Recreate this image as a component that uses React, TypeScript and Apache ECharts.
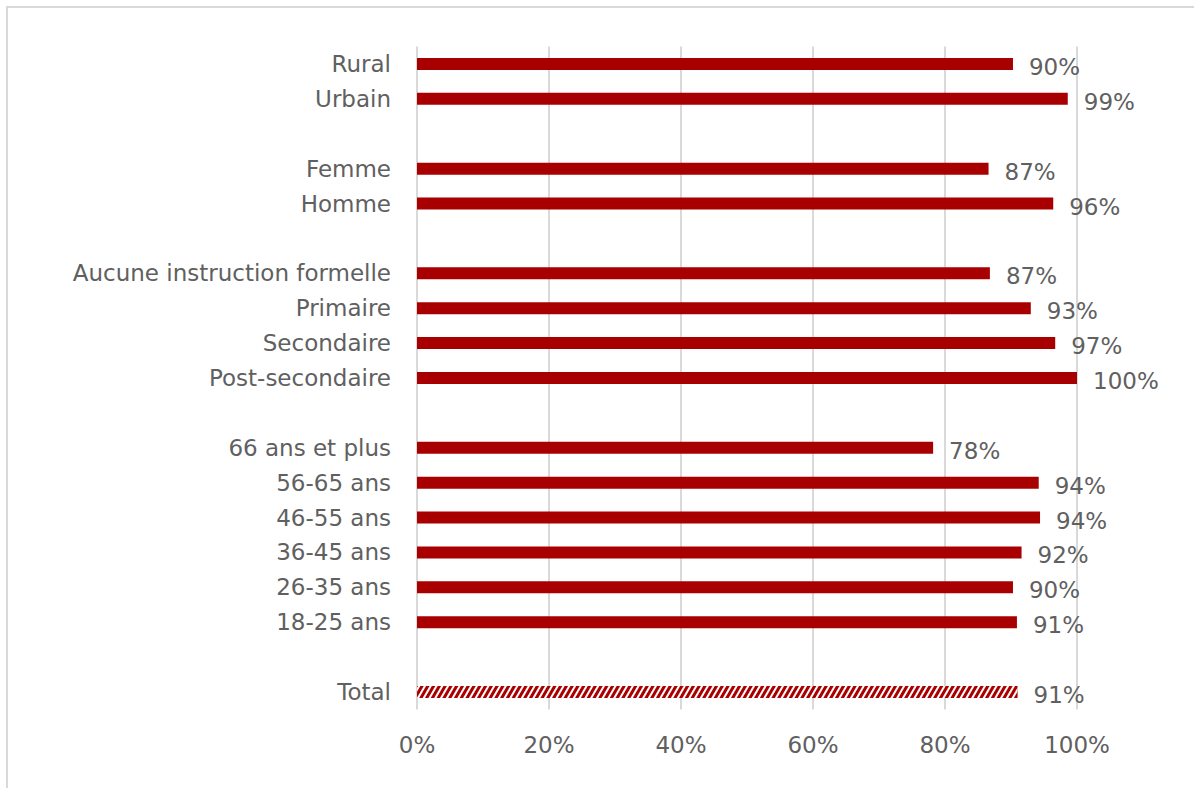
import React, { useEffect, useRef } from "react";
import * as echarts from "echarts";

// Row labels, top to bottom; blank entries are spacer rows between groups.
const categories = [
  "Rural",
  "Urbain",
  " ",
  "Femme",
  "Homme",
  "  ",
  "Aucune instruction formelle",
  "Primaire",
  "Secondaire",
  "Post-secondaire",
  "   ",
  "66 ans et plus",
  "56-65 ans",
  "46-55 ans",
  "36-45 ans",
  "26-35 ans",
  "18-25 ans",
  "    ",
  "Total",
];

// Share (%) per row; null for spacer rows.
const values: (number | null)[] = [
  90.3, 98.6, null, 86.6, 96.4, null, 86.8, 93.0, 96.7, 100, null,
  78.2, 94.2, 94.4, 91.6, 90.3, 90.9, null, 91.0,
];

const xTicks = { min: 0, max: 100, interval: 20 };

const RED = "#A80000";
const TEXT = "#606060";
const FONT = "DejaVu Sans";
const FONT_SIZE = 23;

export default function App() {
  const ref = useRef<HTMLDivElement>(null);

  useEffect(() => {
    if (!ref.current) return;
    const chart = echarts.init(ref.current, undefined, { renderer: "svg" });

    const data = values.map((v, i) => {
      if (v === null) return { value: null };
      if (categories[i] === "Total") {
        return {
          value: v,
          itemStyle: {
            color: RED,
            decal: {
              symbol: "rect",
              symbolSize: 1,
              color: "#ffffff",
              dashArrayX: [1, 0],
              dashArrayY: [2, 3],
              rotation: -Math.PI / 3,
            },
          },
        };
      }
      return { value: v };
    });

    chart.setOption({
      animation: false,
      textStyle: { fontFamily: FONT },
      graphic: [
        {
          type: "rect",
          shape: { x: 7, y: 7, width: 1300, height: 900 },
          style: { fill: "none", stroke: "#d9d9d9", lineWidth: 2 },
          silent: true,
        },
      ],
      grid: { left: 417, right: 117, top: 46.5, bottom: 78.5, containLabel: false },
      xAxis: {
        type: "value",
        min: xTicks.min,
        max: xTicks.max,
        interval: xTicks.interval,
        axisLine: { show: false },
        axisTick: { show: false },
        splitLine: { lineStyle: { color: "#d9d9d9", width: 2 } },
        axisLabel: {
          formatter: "{value}%",
          color: TEXT,
          fontSize: FONT_SIZE,
          fontFamily: FONT,
          margin: 24,
        },
      },
      yAxis: {
        type: "category",
        inverse: true,
        data: categories,
        axisLine: { show: false },
        axisTick: { show: false },
        axisLabel: {
          color: TEXT,
          fontSize: FONT_SIZE,
          fontFamily: FONT,
          margin: 26,
          interval: 0,
        },
      },
      series: [
        {
          type: "bar",
          barWidth: 12,
          data,
          itemStyle: { color: RED },
          label: {
            show: true,
            position: "right",
            distance: 16,
            color: TEXT,
            fontSize: FONT_SIZE,
            fontFamily: FONT,
            offset: [0, 3],
            formatter: (p: any) =>
              p.value == null ? "" : Math.round(p.value) + "%",
          },
        },
      ],
    });

    return () => chart.dispose();
  }, []);

  return (
    <div
      ref={ref}
      style={{ position: "fixed", left: 0, top: 0, width: 1194, height: 788, background: "#fff" }}
    />
  );
}
